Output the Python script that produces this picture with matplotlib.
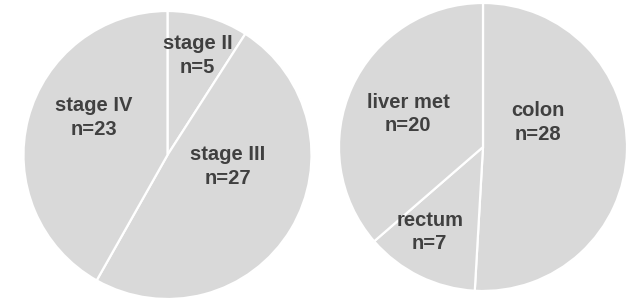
import matplotlib.pyplot as plt

stage_labels = ['stage II', 'stage III', 'stage IV']
stage_n = [5, 27, 23]
site_labels = ['colon', 'rectum', 'liver met']
site_n = [28, 7, 20]

# where the label of each slice sits (in pie radius units)
stage_pos = [(0.21, 0.69), (0.42, -0.08), (-0.51, 0.26)]
site_pos = [(0.38, 0.17), (-0.37, -0.59), (-0.52, 0.23)]

plt.rcParams['font.family'] = ['Liberation Sans', 'DejaVu Sans']

fig = plt.figure(figsize=(6.33, 2.99), dpi=100)
ax1 = fig.add_axes([23 / 633, 0.0, 289 / 633, 288 / 299])
ax2 = fig.add_axes([339 / 633, 8 / 299, 288 / 633, 288 / 299])


def draw(ax, labels, values, pos):
    ax.pie(values, startangle=90, counterclock=False, colors=['#d9d9d9'] * len(values),
           wedgeprops=dict(edgecolor='white', linewidth=1.6))
    for lab, v, (x, y) in zip(labels, values, pos):
        ax.text(x, y, lab + '\nn=' + str(v), ha='center', va='center', fontsize=14.5,
                fontweight='bold', color='#404040', linespacing=1.3)
    ax.set_xlim(-1, 1)
    ax.set_ylim(-1, 1)
    ax.set_aspect('equal')
    ax.axis('off')


draw(ax1, stage_labels, stage_n, stage_pos)
draw(ax2, site_labels, site_n, site_pos)

fig.savefig('out.png', dpi=100)
